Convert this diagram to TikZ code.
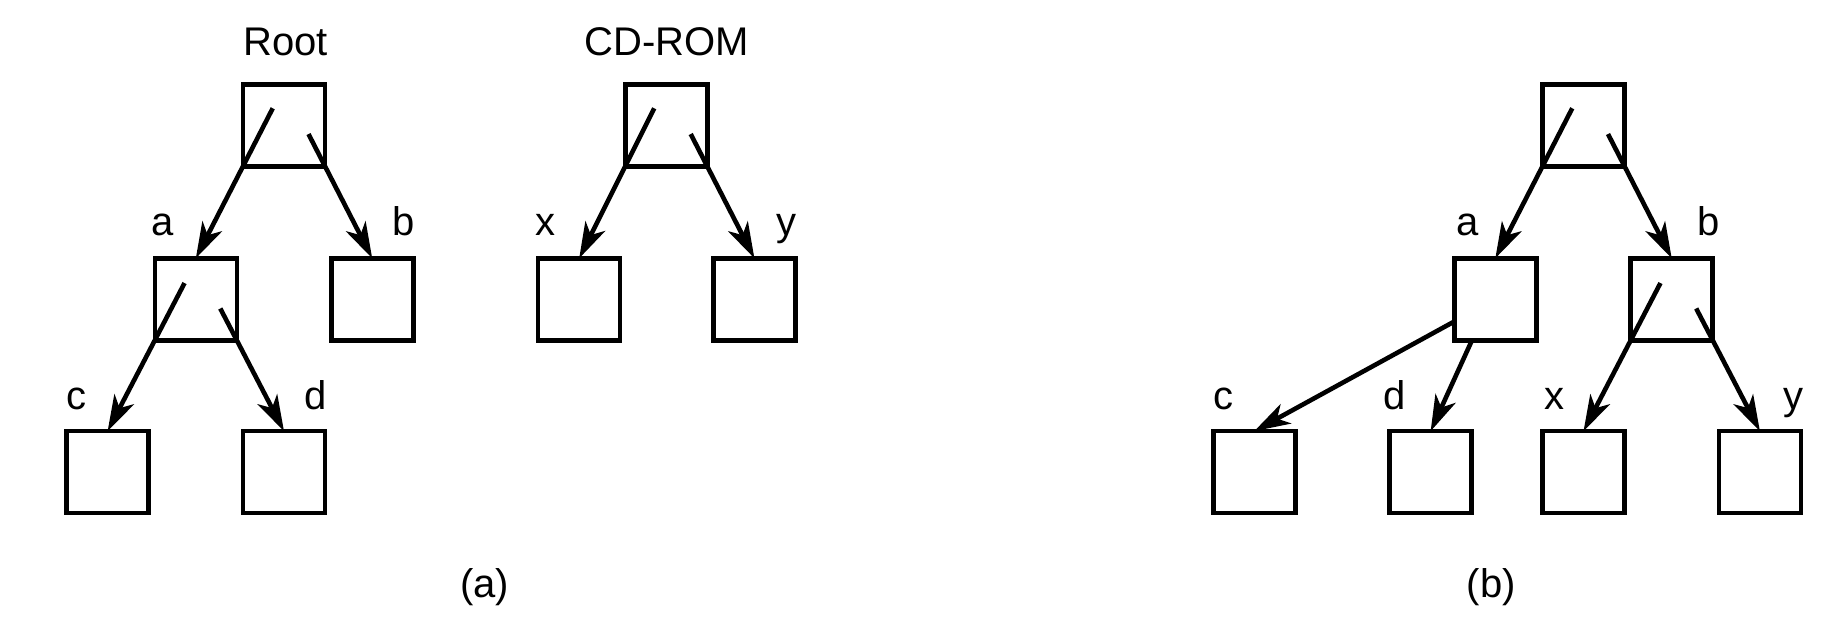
\documentclass[tikz,border=0pt]{standalone}
\usepackage{fontspec}
\setmainfont{Liberation Sans}
\usetikzlibrary{arrows.meta,calc}
\begin{document}
\begin{tikzpicture}[x=0.588pt,y=0.588pt,
  box/.style={draw,line width=2.3pt,minimum width=41pt,minimum height=41pt,inner sep=0pt,outer sep=0pt},
  lbl/.style={anchor=base,font=\fontsize{20}{24}\selectfont,inner sep=0pt},
  arr/.style={line width=2.3pt,-{Stealth[length=18pt,width=11pt,inset=5pt]}}]
\useasboundingbox (0,0) rectangle (1568,-529);
% ---- (a) file system tree
\node[box] (R) at (241.5,-106.5) {};
\node[box] (A) at (166.5,-254.5) {};
\node[box] (B) at (316.5,-254.5) {};
\node[box] (C) at (91.5,-401.5) {};
\node[box] (D) at (241.5,-401.5) {};
\node[lbl] (lR) at (243,-47) {Root};
\node[lbl] (la) at (138,-200) {a};
\node[lbl] (lb) at (343,-200) {b};
\node[lbl] (lc) at (65,-348) {c};
\node[lbl] (ld) at (268,-348) {d};
\draw[arr] ($(R.south west)!-0.63!(A.north)$) -- (A.north);
\draw[arr] ($(R.south east)!-0.35!(B.north)$) -- (B.north);
\draw[arr] ($(A.south west)!-0.63!(C.north)$) -- (C.north);
\draw[arr] ($(A.south east)!-0.35!(D.north)$) -- (D.north);
% ---- CD-ROM tree
\node[box] (CD) at (566.5,-106.5) {};
\node[box] (X) at (492.5,-254.5) {};
\node[box] (Y) at (641.5,-254.5) {};
\node[lbl] (lCD) at (567,-47) {CD-ROM};
\node[lbl] (lx) at (464,-200) {x};
\node[lbl] (ly) at (669,-200) {y};
\draw[arr] ($(CD.south west)!-0.63!(X.north)$) -- (X.north);
\draw[arr] ($(CD.south east)!-0.35!(Y.north)$) -- (Y.north);
\node[lbl] (capa) at (412,-508) {(a)};
% ---- (b) mounted tree
\node[box] (R2) at (1346.5,-106.5) {};
\node[box] (A2) at (1271.5,-254.5) {};
\node[box] (B2) at (1421.5,-254.5) {};
\node[box] (C2) at (1066.5,-401.5) {};
\node[box] (D2) at (1216.5,-401.5) {};
\node[box] (X2) at (1346.5,-401.5) {};
\node[box] (Y2) at (1496.5,-401.5) {};
\node[lbl] (la2) at (1248,-200) {a};
\node[lbl] (lb2) at (1453,-200) {b};
\node[lbl] (lc2) at (1040,-348) {c};
\node[lbl] (ld2) at (1186,-348) {d};
\node[lbl] (lx2) at (1322,-348) {x};
\node[lbl] (ly2) at (1525,-348) {y};
\draw[arr] ($(R2.south west)!-0.63!(A2.north)$) -- (A2.north);
\draw[arr] ($(R2.south east)!-0.35!(B2.north)$) -- (B2.north);
\draw[arr] ($(A2.south west)+(0,16)$) -- (C2.north);
\draw[arr] ($(A2.south west)+(15,0)$) -- (D2.north);
\draw[arr] ($(B2.south west)!-0.63!(X2.north)$) -- (X2.north);
\draw[arr] ($(B2.south east)!-0.35!(Y2.north)$) -- (Y2.north);
\node[lbl] (capb) at (1268,-508) {(b)};
\end{tikzpicture}
\end{document}
